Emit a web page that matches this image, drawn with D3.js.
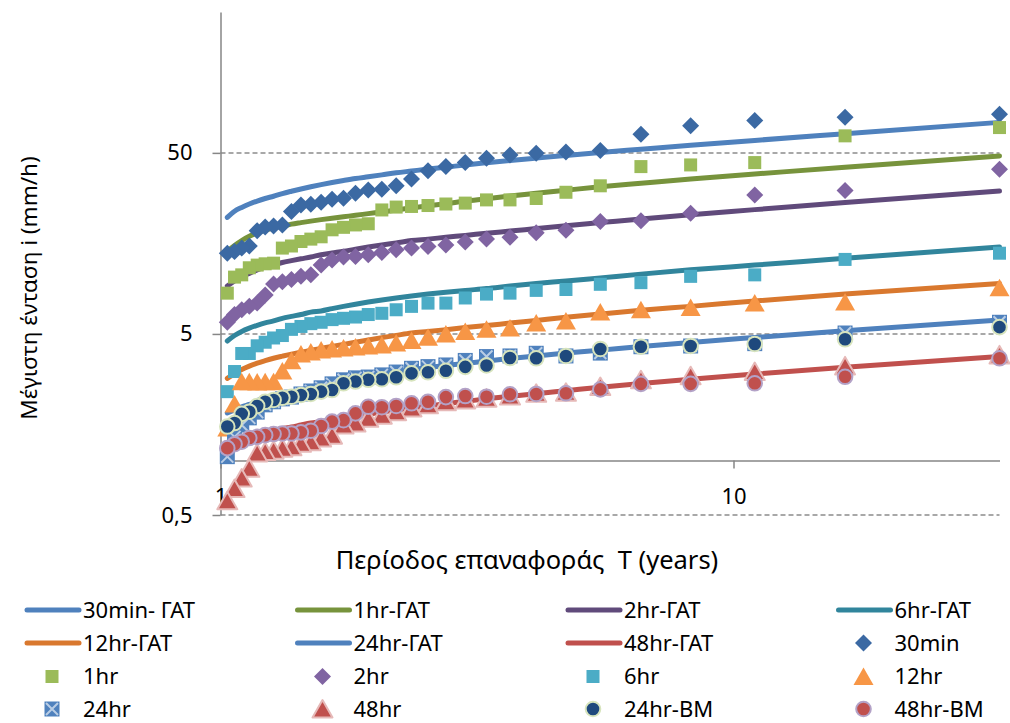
<!DOCTYPE html>
<html><head><meta charset="utf-8">
<script src="https://cdnjs.cloudflare.com/ajax/libs/d3/7.8.5/d3.min.js"></script>
<style>body{margin:0;background:#fff}svg{display:block;font-family:"Noto Sans",sans-serif}</style>
</head><body>
<svg id="c" width="1010" height="723"></svg>
<script>
// Return period T (years), rank m = 1..32
const T = [33, 16.5, 11, 8.25, 6.6, 5.5, 4.714, 4.125, 3.667, 3.3, 3.0, 2.75, 2.538, 2.357, 2.2, 2.063, 1.941, 1.833, 1.737, 1.65, 1.571, 1.5, 1.435, 1.375, 1.32, 1.269, 1.222, 1.179, 1.138, 1.1, 1.065, 1.031];

// Observed intensities (mm/h)
const i30   = [81.8,78.7,75.4,70.5,63.3,51.5,50.6,49.8,48.7,46.7,44.2,42.0,39.8,35.9,32.9,31.5,31.2,29.9,28.1,27.7,26.7,26.0,25.8,23.7,20.0,19.75,19.5,18.6,15.3,14.9,14.25,13.96];
const i60   = [69.0,62.1,44.2,42.9,42.0,32.9,30.3,28.0,27.5,27.5,26.4,26.1,25.6,25.3,25.1,24.2,20.3,20.0,19.4,18.8,17.2,16.7,16.2,15.3,14.9,12.3,12.2,12.0,11.6,10.6,10.3,8.4];
const i120  = [40.6,31.0,29.3,23.2,21.1,20.9,18.7,18.1,17.1,16.7,16.1,15.5,15.2,14.9,14.6,14.1,13.7,13.4,13.3,12.8,12.0,10.6,10.4,10.0,9.7,9.45,8.2,7.4,7.1,6.8,6.4,5.8];
const i360  = [13.96,12.9,10.6,10.4,9.6,9.4,8.8,8.7,8.4,8.3,7.9,7.4,7.4,7.1,6.8,6.5,6.4,6.2,6.1,6.0,5.8,5.7,5.5,5.3,4.9,4.75,4.5,4.3,3.9,3.9,3.1,2.4];
const i720  = [9.0,7.5,7.4,7.0,6.8,6.6,5.9,5.75,5.4,5.3,5.16,5.0,4.8,4.6,4.46,4.35,4.29,4.24,4.18,4.13,4.08,3.98,3.88,3.55,3.12,2.72,2.72,2.71,2.72,2.72,2.05,1.51];
const i1440 = [5.8,5.06,4.42,4.29,4.25,3.92,3.78,3.91,3.78,3.75,3.57,3.37,3.30,3.23,3.08,2.97,2.89,2.86,2.79,2.65,2.52,2.42,2.33,2.24,2.19,2.11,2.03,1.85,1.72,1.57,1.35,1.05];
const i2880 = [3.83,3.33,3.10,2.94,2.79,2.56,2.38,2.35,2.27,2.21,2.16,2.11,2.03,1.95,1.86,1.78,1.71,1.61,1.57,1.38,1.33,1.27,1.245,1.19,1.17,1.14,1.12,1.10,0.905,0.80,0.70,0.60];
const i1440BM = [5.45,4.67,4.4,4.29,4.25,4.13,3.78,3.67,3.68,3.35,3.29,3.13,3.07,3.03,2.88,2.81,2.79,2.73,2.67,2.45,2.40,2.33,2.30,2.25,2.22,2.16,2.11,2.0,1.86,1.81,1.61,1.54];
const i2880BM = [3.67,2.90,2.67,2.65,2.65,2.47,2.35,2.33,2.32,2.25,2.27,2.24,2.11,2.07,2.0,1.97,1.98,1.82,1.67,1.64,1.55,1.46,1.43,1.41,1.41,1.40,1.38,1.35,1.33,1.27,1.23,1.17];

// Fitted (ΓΑΤ) curves (mm/h), read at the same T
const g30   = [73.7,63.8,58.6,55.1,52.4,50.3,48.4,46.8,45.4,44.1,42.9,41.7,40.7,39.7,38.8,37.8,36.9,36.1,35.2,34.3,33.4,32.5,31.6,30.7,29.8,28.8,28.0,27.1,26.1,25.0,23.8,22.0];
const g60   = [48.1,41.7,38.2,35.9,34.0,32.5,31.1,29.9,28.9,27.9,27.1,26.2,25.5,24.8,24.2,23.6,23.1,22.6,22.2,21.8,21.4,21.0,20.6,20.2,19.7,19.3,18.7,18.1,17.3,16.4,15.4,14.3];
const g120  = [30.8,26.6,24.3,22.8,21.6,20.6,19.8,19.1,18.5,18.0,17.5,17.1,16.7,16.4,15.9,15.5,15.1,14.7,14.3,14.0,13.7,13.3,13.0,12.7,12.4,12.0,11.7,11.3,10.8,10.4,9.8,9.2];
const g360  = [15.1,13.1,12.0,11.3,10.7,10.2,9.8,9.5,9.2,8.9,8.7,8.5,8.3,8.1,7.9,7.7,7.5,7.3,7.1,6.9,6.7,6.6,6.4,6.25,6.1,5.9,5.76,5.58,5.38,5.16,4.9,4.57];
const g720  = [9.5,8.3,7.6,7.1,6.75,6.44,6.18,5.94,5.74,5.56,5.42,5.28,5.16,5.06,4.91,4.77,4.63,4.5,4.38,4.27,4.16,4.06,3.96,3.87,3.77,3.67,3.56,3.45,3.32,3.18,3.02,2.84];
const g1440 = [5.97,5.2,4.78,4.49,4.26,4.07,3.92,3.78,3.66,3.54,3.44,3.35,3.26,3.17,3.08,2.98,2.88,2.79,2.70,2.62,2.55,2.48,2.42,2.35,2.29,2.23,2.17,2.11,2.04,1.98,1.90,1.83];
const g2880 = [3.75,3.27,3.0,2.81,2.66,2.54,2.43,2.34,2.26,2.19,2.12,2.06,2.0,1.95,1.90,1.85,1.80,1.76,1.72,1.68,1.64,1.61,1.57,1.53,1.50,1.47,1.43,1.39,1.35,1.31,1.27,1.22];

const yTicks = [0.5, 5, 50];
const xTicks = [1, 10];
const yTitle = "Μέγιστη ένταση i (mm/h)";
const xTitle = "Περίοδος επαναφοράς  T (years)";

const lineSeries = [
  {name:"30min- ΓΑΤ", values:g30,   color:"#4F81BD"},
  {name:"1hr-ΓΑΤ",    values:g60,   color:"#77933C"},
  {name:"2hr-ΓΑΤ",    values:g120,  color:"#604A7B"},
  {name:"6hr-ΓΑΤ",    values:g360,  color:"#31859C"},
  {name:"12hr-ΓΑΤ",   values:g720,  color:"#D9782E"},
  {name:"24hr-ΓΑΤ",   values:g1440, color:"#4F81BD"},
  {name:"48hr-ΓΑΤ",   values:g2880, color:"#C0504D"}
];
const pointSeries = [
  {name:"30min",    values:i30,     shape:"diamond",  fill:"#3B69A3"},
  {name:"1hr",      values:i60,     shape:"square",   fill:"#9BBB59"},
  {name:"2hr",      values:i120,    shape:"diamond",  fill:"#8064A2"},
  {name:"6hr",      values:i360,    shape:"square",   fill:"#4BACC6"},
  {name:"12hr",     values:i720,    shape:"triangle", fill:"#F79646"},
  {name:"24hr",     values:i1440,   shape:"xsquare",  fill:"#4F81BD", stroke:"#B9CDE5"},
  {name:"48hr",     values:i2880,   shape:"triangle", fill:"#C0504D", stroke:"#E6B9B8"},
  {name:"24hr-BM",  values:i1440BM, shape:"circle",   fill:"#1F497D", stroke:"#D7E4BD"},
  {name:"48hr-BM",  values:i2880BM, shape:"circle",   fill:"#C0504D", stroke:"#B3A2C7"}
];

const svg = d3.select("#c");
const x = d3.scaleLog().domain([1, 33]).range([220.5, 999.5]);
const y = d3.scaleLog().domain([0.5, 300]).range([515, 12]);
const AX = "#868686";

// gridlines
svg.append("g").selectAll("line").data(yTicks).join("line")
  .attr("x1", x(1)).attr("x2", x(33))
  .attr("y1", d => y(d)).attr("y2", d => y(d))
  .attr("stroke", "#8c8c8c").attr("stroke-width", 1.5).attr("stroke-dasharray", "5,3");

// y axis
const gy = svg.append("g").attr("transform", `translate(${x(1)},0)`)
  .call(d3.axisLeft(y).tickValues(yTicks).tickFormat(d => String(d).replace(".", ","))
        .tickSize(8).tickSizeOuter(0).tickPadding(20));
// x axis (crosses at 1)
const gx = svg.append("g").attr("transform", `translate(0,${y(1)})`)
  .call(d3.axisBottom(x).tickValues(xTicks).tickFormat(d3.format("d"))
        .tickSize(8).tickSizeOuter(0).tickPadding(20));
[gx, gy].forEach(g => {
  g.select(".domain").attr("stroke", AX).attr("stroke-width", 1.5);
  g.selectAll(".tick line").attr("stroke", AX).attr("stroke-width", 1.5);
  g.selectAll(".tick text").attr("fill", "#000").attr("font-size", 22).attr("font-family", "Noto Sans");
});

// fitted curves
const line = d3.line().x(d => x(d[0])).y(d => y(d[1])).curve(d3.curveMonotoneX);
svg.append("g").selectAll("path").data(lineSeries).join("path")
  .attr("d", s => line(T.map((t, i) => [t, s.values[i]]).reverse()))
  .attr("fill", "none").attr("stroke", s => s.color)
  .attr("stroke-width", 5).attr("stroke-linecap", "round").attr("stroke-linejoin", "round");

// marker drawer
function drawMarker(g, s) {
  if (s.shape === "diamond") {
    g.append("path").attr("d", "M0,-8.5L8.5,0L0,8.5L-8.5,0Z").attr("fill", s.fill);
  } else if (s.shape === "square") {
    g.append("rect").attr("x", -6.5).attr("y", -6.5).attr("width", 13).attr("height", 13).attr("fill", s.fill);
  } else if (s.shape === "triangle") {
    g.append("path").attr("d", "M0,-9L10,8.5L-10,8.5Z").attr("fill", s.fill)
      .attr("stroke", s.stroke || "none").attr("stroke-width", s.stroke ? 2 : 0).attr("stroke-linejoin", "round");
  } else if (s.shape === "xsquare") {
    g.append("rect").attr("x", -7.5).attr("y", -7.5).attr("width", 15).attr("height", 15).attr("fill", s.fill);
    g.append("path").attr("d", "M-6,-6L6,6M6,-6L-6,6").attr("stroke", s.stroke).attr("stroke-width", 2);
  } else if (s.shape === "circle") {
    g.append("circle").attr("r", 7.3).attr("fill", s.fill).attr("stroke", s.stroke).attr("stroke-width", 2);
  }
}

// points
pointSeries.forEach(s => {
  const g = svg.append("g");
  T.forEach((t, i) => {
    const m = g.append("g").attr("transform", `translate(${x(t)},${y(s.values[i])})`);
    drawMarker(m, s);
  });
});

// axis titles
svg.append("text").attr("x", 527).attr("y", 569).attr("text-anchor", "middle")
  .style("white-space", "pre").attr("font-size", 25.5).text(xTitle);
svg.append("text").attr("transform", "translate(37,288) rotate(-90)").attr("text-anchor", "middle")
  .attr("font-size", 22.5).text(yTitle);

// legend
const entries = lineSeries.map(s => ({type:"line", s})).concat(pointSeries.map(s => ({type:"point", s})));
const colX = [25, 295.5, 566, 836.5];
const rowY = [610, 643, 676.5, 709];
entries.forEach((e, k) => {
  const cx = colX[k % 4], cy = rowY[Math.floor(k / 4)];
  const g = svg.append("g");
  if (e.type === "line") {
    g.append("line").attr("x1", cx + 2).attr("x2", cx + 54).attr("y1", cy).attr("y2", cy)
      .attr("stroke", e.s.color).attr("stroke-width", 5).attr("stroke-linecap", "round");
  } else {
    const m = g.append("g").attr("transform", `translate(${cx + 27},${cy})`);
    drawMarker(m, e.s);
  }
  g.append("text").attr("x", cx + 58).attr("y", cy).attr("dy", "0.35em")
    .attr("font-size", 22).text(e.s.name);
});
</script>
</body></html>
